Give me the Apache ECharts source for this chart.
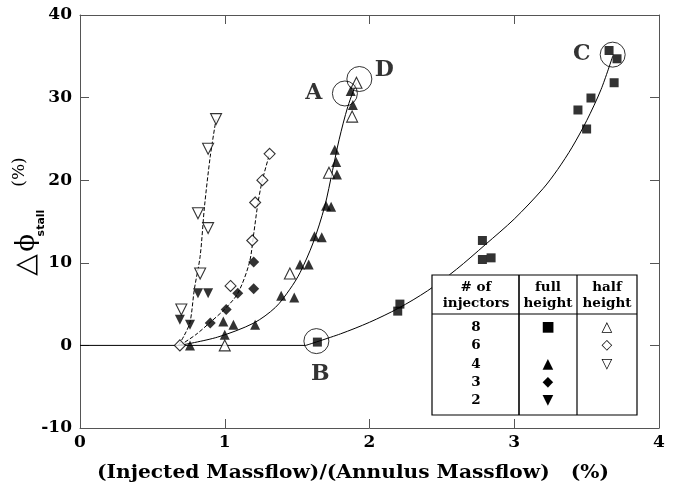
<!DOCTYPE html>
<html><head><meta charset="utf-8">
<script src="https://cdn.jsdelivr.net/npm/echarts@6/dist/echarts.min.js"></script>
<style>html,body{margin:0;padding:0;background:#fff}#c{width:679px;height:493px}</style>
</head><body><div id="c"></div>
<script>
// ---- data ----
const full8 = [[1.64,0.4],[2.21,5.0],[2.195,4.15],[2.78,12.7],[2.78,10.4],[2.84,10.6],[3.44,28.5],[3.53,29.95],[3.50,26.2],[3.69,31.8],[3.655,35.7],[3.71,34.7]];
const half8 = [[1.00,0],[1.45,8.7],[1.72,20.9],[1.88,27.7],[1.91,31.8]];
const full4 = [[0.76,0],[1.00,1.3],[0.99,2.9],[1.06,2.5],[1.21,2.5],[1.39,6.0],[1.48,5.8],[1.52,9.8],[1.58,9.8],[1.62,13.2],[1.67,13.1],[1.70,16.9],[1.735,16.8],[1.775,20.7],[1.77,22.2],[1.76,23.7],[1.885,29.1],[1.87,30.8]];
const half6 = [[0.69,0],[1.04,7.2],[1.19,12.7],[1.21,17.3],[1.26,20.0],[1.31,23.2]];
const full3 = [[0.90,2.7],[1.01,4.35],[1.09,6.3],[1.20,6.85],[1.20,10.1]];
const full2 = [[0.69,3.1],[0.76,2.5],[0.815,6.3],[0.885,6.3]];
const half4 = [[0.70,4.35],[0.83,8.7],[0.885,14.2],[0.815,16.0],[0.885,23.8],[0.94,27.4]];
// fitted curves as traced in the picture
const base8 = [[0,0],[1.56,0]];
const curve8 = [[1.56,0],[1.8,1.4],[2.0,2.8],[2.2,4.5],[2.4,6.6],[2.6,9.2],[2.8,12.2],[3.0,15.3],[3.2,19.0],[3.3,21.3],[3.4,24.0],[3.5,27.2],[3.6,31.0],[3.68,35.0]];
const curveTri = [[0.69,0],[0.95,1.0],[1.2,2.7],[1.35,4.6],[1.45,6.8],[1.52,8.8],[1.61,12.4],[1.69,16.8],[1.745,21.2],[1.79,24.9],[1.85,28.9],[1.91,31.8]];
const curveDia = [[0.69,0],[0.80,1.3],[0.90,2.8],[1.0,4.4],[1.09,6.3],[1.17,10],[1.20,13.5],[1.23,17.3],[1.26,20],[1.31,23.2]];
const curveInv = [[0.68,0],[0.72,1.2],[0.76,2.8],[0.79,6.8],[0.83,10.8],[0.86,16.8],[0.90,22.9],[0.94,27.4]];
const marked = [[1.633,0.52],[1.83,30.5],[1.93,32.25],[3.68,35.2]];
const markedNames = ['B','A','D','C'];
const legendRows = ['8','6','4','3','2'];
const legendFull = ['■','','▲','◆','▼'];
const legendHalf = ['△','◇','▽','',''];
const xTitle = '(Injected Massflow)/(Annulus Massflow)   (%)';

// ---- styles ----
const SERIF = '"DejaVu Serif", serif';
const labelOffsets = {A:[-31,0], B:[4,33], C:[-31,0], D:[25,-9]};
const chart = echarts.init(document.getElementById('c'));

function scatter(data, symbol, size, filled, rotate) {
  return {type:'scatter', data, symbol, symbolSize:size, symbolRotate:rotate||0, z:5,
    itemStyle: filled ? {color:'#000'} : {color:'#fff', borderColor:'#000', borderWidth:1.1}};
}
function curve(data, dashed, smooth) {
  return {type:'line', data, showSymbol:false, smooth:smooth, z:3,
    lineStyle:{color:'#000', width:1, type: dashed ? [4,2] : 'solid'}};
}
const axisLine = {show:true, onZero:false, lineStyle:{color:'#555', width:1}};
const tick = {show:true, inside:true, length:9, lineStyle:{color:'#555'}};
const lbl = {color:'#000', fontFamily:SERIF, fontWeight:'bold', fontSize:17};

const graphic = [
  {type:'text', x:353, y:473, scaleX:1.12, style:{text:xTitle, font:'bold 18px '+SERIF, fill:'#000', textAlign:'center', textVerticalAlign:'middle'}},
  {type:'text', x:20, y:172, rotation:Math.PI/2, style:{text:'(%)', font:'17px '+SERIF, fill:'#000', textAlign:'center', textVerticalAlign:'middle'}},
  {type:'text', x:27, y:243, rotation:Math.PI/2, style:{text:'ϕ', font:'26px '+SERIF, fill:'#000', textAlign:'center', textVerticalAlign:'middle'}},
  {type:'text', x:41, y:223, rotation:Math.PI/2, style:{text:'stall', font:'bold 11px "DejaVu Sans"', fill:'#000', textAlign:'center', textVerticalAlign:'middle'}},
  {type:'text', x:27, y:265, rotation:Math.PI/2, style:{text:'△', font:'28px "DejaVu Sans"', fill:'#000', textAlign:'center', textVerticalAlign:'middle'}},
  {type:'rect', z:20, shape:{x:432, y:275, width:205, height:140}, style:{fill:'#fff', stroke:'#000', lineWidth:1.2}},
  {type:'line', z:21, shape:{x1:432, y1:314, x2:637, y2:314}, style:{stroke:'#000', lineWidth:1.2}},
  {type:'line', z:21, shape:{x1:519, y1:275, x2:519, y2:415}, style:{stroke:'#000', lineWidth:1.6}},
  {type:'line', z:21, shape:{x1:577, y1:275, x2:577, y2:415}, style:{stroke:'#000', lineWidth:1.2}}
];
const hdr = [['# of',476,287],['injectors',476,303],['full',548,287],['height',548,303],['half',607,287],['height',607,303]];
hdr.forEach(h => graphic.push({type:'text', z:22, x:h[1], y:h[2], style:{text:h[0], font:'bold 13.5px '+SERIF, fill:'#000', textAlign:'center', textVerticalAlign:'middle'}}));
const rowY = [327,345,364,382,400];
legendRows.forEach((r,i) => {
  graphic.push({type:'text', z:22, x:476, y:rowY[i], style:{text:r, font:'bold 13.5px '+SERIF, fill:'#000', textAlign:'center', textVerticalAlign:'middle'}});
  if (legendFull[i]) graphic.push({type:'text', z:22, x:548, y:rowY[i], style:{text:legendFull[i], font:'14px "DejaVu Sans"', fill:'#000', textAlign:'center', textVerticalAlign:'middle'}});
  if (legendHalf[i]) graphic.push({type:'text', z:22, x:607, y:rowY[i], style:{text:legendHalf[i], font:'14px "DejaVu Sans"', fill:'#000', textAlign:'center', textVerticalAlign:'middle'}});
});

chart.setOption({
  animation:false,
  backgroundColor:'#fff',
  grid:{left:80, right:20, top:15, bottom:65},
  xAxis:[
    {type:'value', min:0, max:4, interval:1, position:'bottom', axisLine, axisTick:tick, splitLine:{show:false}, axisLabel:Object.assign({margin:6}, lbl)},
    {type:'value', min:0, max:4, interval:1, position:'top', axisLine, axisTick:tick, splitLine:{show:false}, axisLabel:{show:false}}
  ],
  yAxis:[
    {type:'value', min:-10, max:40, interval:10, position:'left', axisLine, axisTick:tick, splitLine:{show:false}, axisLabel:Object.assign({margin:8}, lbl)},
    {type:'value', min:-10, max:40, interval:10, position:'right', axisLine, axisTick:tick, splitLine:{show:false}, axisLabel:{show:false}}
  ],
  graphic,
  series:[
    curve(base8,false,false), curve(curve8,false,0.3), curve(curveTri,false,0.3), curve(curveDia,true,0.3), curve(curveInv,true,0.3),
    scatter(full8,'rect',9,true),
    scatter(half8,'triangle',11,false),
    scatter(full4,'triangle',10,true),
    scatter(half6,'diamond',11,false),
    scatter(full3,'diamond',11,true),
    scatter(full2,'triangle',10,true,180),
    scatter(half4,'triangle',11,false,180),
    {type:'scatter', z:6, symbol:'circle', symbolSize:25,
     itemStyle:{color:'rgba(0,0,0,0)', borderColor:'#000', borderWidth:1},
     data: marked.map((p,i) => ({value:p, name:markedNames[i],
       label:{show:true, position:'inside', offset:labelOffsets[markedNames[i]], formatter:'{b}',
              color:'#000', fontFamily:SERIF, fontWeight:'bold', fontSize:22}}))}
  ]
});
</script></body></html>
